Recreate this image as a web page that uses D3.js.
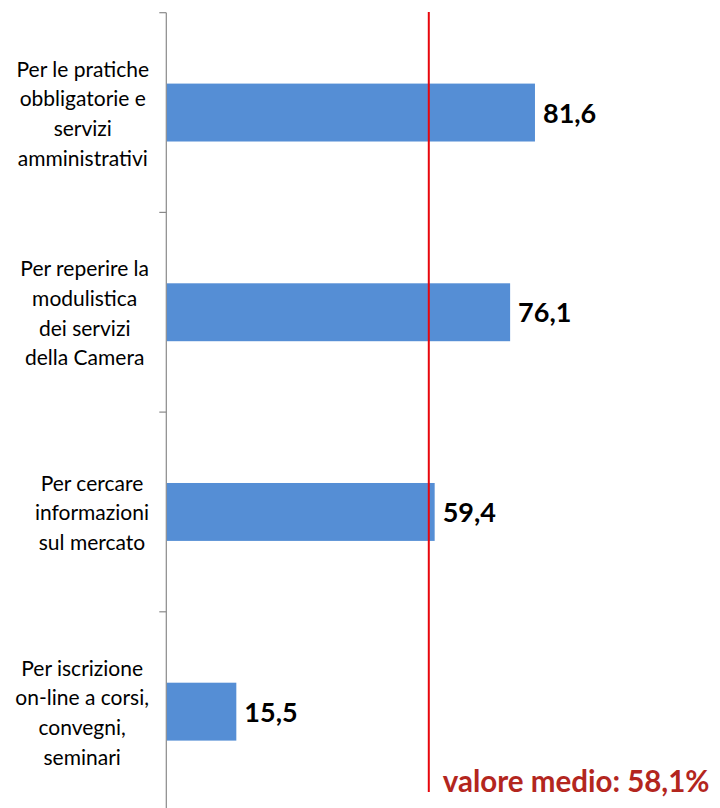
<!DOCTYPE html>
<html>
<head>
<meta charset="utf-8">
<script src="https://cdn.jsdelivr.net/npm/d3@7"></script>
<style>
  html, body { margin: 0; padding: 0; background: #fff; }
  svg { display: block; }
</style>
</head>
<body>
<svg id="chart"></svg>
<script>
// Horizontal bar chart — uso del sito della Camera, with average reference line

const categories = [
  ["Per le pratiche", "obbligatorie e", "servizi", "amministrativi"],
  ["Per reperire la", "modulistica", "dei servizi", "della Camera"],
  ["Per cercare", "informazioni", "sul mercato"],
  ["Per iscrizione", "on-line a corsi,", "convegni,", "seminari"]
];
const values = [81.6, 76.1, 59.4, 15.5];
const average = 58.1;
const averageLabel = "valore medio: 58,1%";

const W = 720, H = 808;
const BAR = "#558ed5";
const AXIS = "#898989";
const AVG_LINE = "#e8060c";
const AVG_TEXT = "#b3261e";
const FONT = "Lato, 'Open Sans', sans-serif";

const svg = d3.select("#chart").attr("width", W).attr("height", H);

const keys = categories.map((c, i) => i);

// Band per category; padding chosen so the step stays range/n and bars are centred
const y = d3.scaleBand()
  .domain(keys)
  .range([12.7, 811.5])
  .paddingInner(0.71)
  .paddingOuter(0.355);

const step = y.step();
const x = d3.scaleLinear().domain([0, 100]).range([166.3, 166.3 + 451.8]);

// Axis line + ticks at category boundaries
svg.append("line")
  .attr("x1", x(0)).attr("x2", x(0))
  .attr("y1", y.range()[0]).attr("y2", H)
  .attr("stroke", AXIS).attr("stroke-width", 1.2);

d3.range(keys.length + 1).forEach(i => {
  const ty = y.range()[0] + i * step;
  svg.append("line")
    .attr("x1", x(0) - 7).attr("x2", x(0))
    .attr("y1", ty).attr("y2", ty)
    .attr("stroke", AXIS).attr("stroke-width", 1.2);
});

// Bars
svg.selectAll("rect.bar").data(values).enter()
  .append("rect").attr("class", "bar")
  .attr("x", x(0) + 0.6)
  .attr("y", (d, i) => y(i))
  .attr("width", d => x(d) - x(0) - 0.6)
  .attr("height", y.bandwidth())
  .attr("fill", BAR);

// Value labels
svg.selectAll("text.val").data(values).enter()
  .append("text").attr("class", "val")
  .attr("x", d => x(d) + 8)
  .attr("y", (d, i) => y(i) + y.bandwidth() / 2 + 10)
  .attr("font-family", FONT)
  .attr("font-size", 27)
  .attr("font-weight", 700)
  .attr("fill", "#000")
  .text(d => d.toFixed(1).replace(".", ","));

// Category labels: the wrapped block sits flush against the axis,
// each line centred within the block (like the spreadsheet original)
const LINE_H = 29.7;
const LABEL_RIGHT = 149;
categories.forEach((lines, i) => {
  const cy = y(i) + y.bandwidth() / 2;
  const t = svg.append("text")
    .attr("text-anchor", "middle")
    .attr("font-family", FONT)
    .attr("font-size", 21)
    .attr("fill", "#000");
  const spans = lines.map((ln, j) => t.append("tspan")
    .attr("y", cy + (j - (lines.length - 1) / 2) * LINE_H + 8.5)
    .text(ln));
  const maxW = d3.max(spans, s => s.node().getComputedTextLength());
  spans.forEach(s => s.attr("x", LABEL_RIGHT - maxW / 2));
});

// Average reference line
svg.append("line")
  .attr("x1", x(average)).attr("x2", x(average))
  .attr("y1", 12).attr("y2", 792)
  .attr("stroke", AVG_LINE).attr("stroke-width", 2);

svg.append("text")
  .attr("x", x(average) + 14)
  .attr("y", 792)
  .attr("font-family", FONT)
  .attr("font-size", 29.5)
  .attr("font-weight", 700)
  .attr("fill", AVG_TEXT)
  .text(averageLabel);
</script>
</body>
</html>
